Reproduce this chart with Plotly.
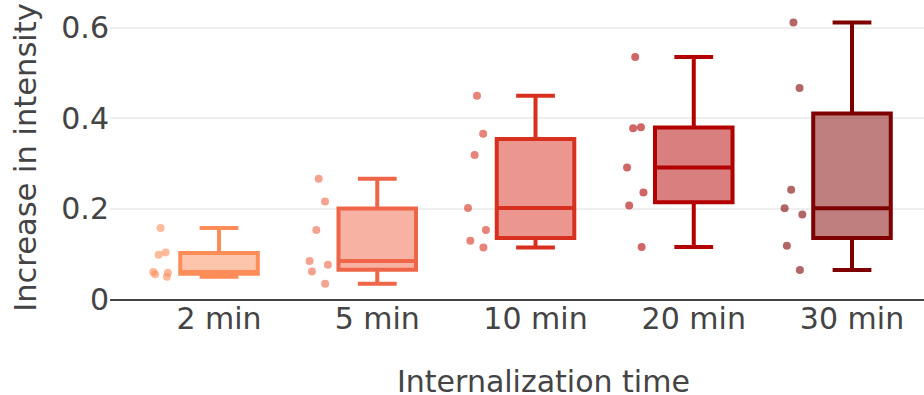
import plotly.graph_objects as go

categories = ["2 min", "5 min", "10 min", "20 min", "30 min"]
colors = ["#fc8d59", "#ef6548", "#d7301f", "#b30000", "#7f0000"]

vals_2 = [0.157, 0.103, 0.098, 0.060, 0.055, 0.058, 0.049]
vals_5 = [0.266, 0.216, 0.153, 0.084, 0.061, 0.076, 0.034]
vals_10 = [0.450, 0.366, 0.319, 0.2015, 0.153, 0.129, 0.114]
vals_20 = [0.536, 0.378, 0.380, 0.291, 0.236, 0.207, 0.115]
vals_30 = [0.612, 0.467, 0.242, 0.201, 0.187, 0.118, 0.064]
series = [vals_2, vals_5, vals_10, vals_20, vals_30]

y_ticks = [0, 0.2, 0.4, 0.6]
y_ticktext = ["0", "0.2", "0.4", "0.6"]

x_title = "Internalization time"
y_title = "Increase in intensity"

FONT = "DejaVu Sans"
TXT = "#444444"

fig = go.Figure()
for cat, col, vals in zip(categories, colors, series):
    fig.add_trace(go.Box(
        y=vals,
        x=[cat] * len(vals),
        name=cat,
        boxpoints="all",
        jitter=0.3,
        pointpos=-1.5,
        marker=dict(color=col, size=8, opacity=0.6),
        line=dict(color=col, width=4),
        showlegend=False,
    ))

fig.add_annotation(
    text=x_title,
    xref="paper", yref="paper",
    x=0.532, y=0, yshift=-82,
    xanchor="center", yanchor="middle",
    showarrow=False,
    font=dict(family=FONT, size=30, color=TXT),
)

fig.update_layout(
    width=924,
    height=395,
    margin=dict(l=110, r=0, t=16, b=96),
    paper_bgcolor="white",
    plot_bgcolor="white",
    font=dict(family=FONT, size=30, color=TXT),
    xaxis=dict(
        categoryorder="array",
        categoryarray=categories,
        range=[-0.689, 4.455],
        showline=True,
        linecolor="#444444",
        linewidth=2,
        showgrid=False,
        zeroline=False,
        ticks="",
        ticklabelstandoff=-8,
        tickfont=dict(size=30, color=TXT),
    ),
    yaxis=dict(
        title=dict(text=y_title, font=dict(size=30.5, color=TXT)),
        range=[0, 0.6265],
        tickvals=y_ticks,
        ticktext=y_ticktext,
        showgrid=True,
        gridcolor="#eeeeee",
        gridwidth=2,
        zeroline=False,
        showline=False,
        ticks="",
        tickfont=dict(size=30, color=TXT),
    ),
)

fig.write_html("out.html")
